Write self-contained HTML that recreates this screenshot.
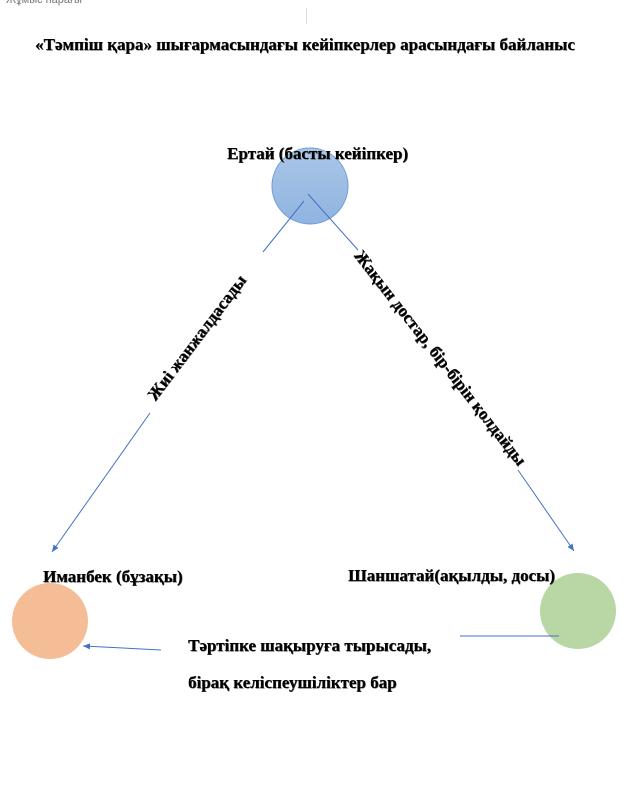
<!DOCTYPE html>
<html><head><meta charset="utf-8"><style>
body{margin:0;width:627px;height:807px;background:#fff;position:relative;overflow:hidden;font-family:"Liberation Serif",serif}
.t{position:absolute;font-weight:bold;color:#000;white-space:nowrap;text-shadow:0.6px 0.6px 0 #444;font-size:17px}
</style></head><body>
<div style="position:absolute;left:6px;top:-6px;font-size:11px;color:#777;font-family:'Liberation Sans',sans-serif">Жұмыс парағы</div>
<div style="position:absolute;left:306px;top:8px;width:1px;height:16px;background:#ddd"></div>
<div class="t" style="left:35px;top:35px">«Тәмпіш қара» шығармасындағы кейіпкерлер арасындағы байланыс</div>
<svg width="627" height="807" style="position:absolute;left:0;top:0">
<defs>
<linearGradient id="b" x1="0" y1="0" x2="0" y2="1"><stop offset="0" stop-color="#aac6e8"/><stop offset="1" stop-color="#8fb4e0"/></linearGradient>
<marker id="a" markerWidth="8" markerHeight="8" refX="7" refY="4" orient="auto"><path d="M0,1 L7,4 L0,7 z" fill="#4472c4"/></marker>
</defs>
<circle cx="310" cy="186" r="38" fill="url(#b)" stroke="#6f9bd6"/>
<circle cx="50" cy="621" r="38" fill="#f5bd96"/>
<circle cx="578" cy="611" r="38" fill="#b8d7a4"/>
<g stroke="#4472c4" stroke-width="1" fill="none">
<line x1="304" y1="201" x2="263" y2="252"/>
<line x1="150" y1="413" x2="52" y2="552" marker-end="url(#a)"/>
<line x1="308" y1="194" x2="358" y2="250"/>
<line x1="518" y1="470" x2="574" y2="551" marker-end="url(#a)"/>
<line x1="460" y1="636" x2="559" y2="636"/>
<line x1="161" y1="650" x2="83" y2="646" marker-end="url(#a)"/>
</g>
</svg>
<div class="t" style="left:227px;top:144px">Ертай (басты кейіпкер)</div>
<div class="t" style="left:197px;top:338px;transform:translate(-50%,-50%) rotate(-53deg)">Жиі жанжалдасады</div>
<div class="t" style="left:440px;top:358px;transform:translate(-50%,-50%) rotate(52deg)">Жақын достар, бір-бірін қолдайды</div>
<div class="t" style="left:43px;top:567px">Иманбек (бұзақы)</div>
<div class="t" style="left:348px;top:566px">Шаншатай(ақылды, досы)</div>
<div class="t" style="left:188px;top:636px">Тәртіпке шақыруға тырысады,</div>
<div class="t" style="left:188px;top:673px">бірақ келіспеушіліктер бар</div>
</body></html>
